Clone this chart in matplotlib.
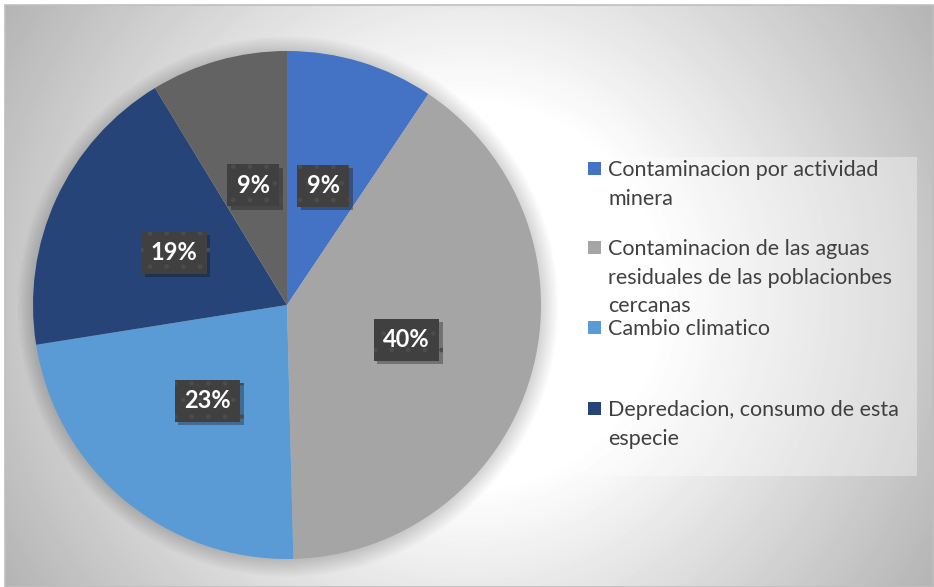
import numpy as np
import matplotlib
matplotlib.use("Agg")
import matplotlib.pyplot as plt
import matplotlib.patheffects as pe
from matplotlib.patches import Rectangle, Circle

# datos del grafico
valores = [9.4, 40.2, 22.9, 18.8, 8.7]
colores = ["#4472C4", "#A5A5A5", "#5B9BD5", "#264478", "#636363"]
leyenda = [
    "Contaminacion por actividad\nminera",
    "Contaminacion de las aguas\nresiduales de las poblacionbes\ncercanas",
    "Cambio climatico",
    "Depredacion, consumo de esta\nespecie",
]

plt.rcParams["font.family"] = ["Lato", "DejaVu Sans"]

W, H = 934, 587
fig = plt.figure(figsize=(W / 100, H / 100), dpi=100)
fig.patch.set_facecolor("white")


def fx(px):
    return px / W


def fy(py):
    return 1 - py / H


# fondo con degradado radial
ax_bg = fig.add_axes([fx(5), 0, fx(929), 582 / H])
yy, xx = np.mgrid[0:582, 0:929]
r = np.hypot(xx - 465, yy - 290)
gris = np.clip(255 - 0.21 * np.clip(r - 190, 0, None), 0, 255) / 255
ax_bg.imshow(gris, cmap="gray", vmin=0, vmax=1, aspect="auto",
             extent=[0, 1, 0, 1], interpolation="bilinear")
ax_bg.set_xlim(0, 1)
ax_bg.set_ylim(0, 1)
ax_bg.axis("off")
fig.add_artist(Rectangle((fx(5), 0), fx(928), 582 / H, transform=fig.transFigure,
                         fill=False, edgecolor="#BFBFBF", linewidth=1.2))

# cuadro de la leyenda
fig.add_artist(Rectangle((fx(578), fy(476)), fx(917 - 578), (476 - 157) / H,
                         transform=fig.transFigure, facecolor="white",
                         alpha=0.35, edgecolor="none"))

# pastel
cx, cy, rad = 287, 305, 254
ext = 1.12
ax = fig.add_axes([fx(cx - rad * ext), (H - cy - rad * ext) / H,
                   2 * rad * ext / W, 2 * rad * ext / H])
ax.axis("off")

# sombra suave
for k in range(14):
    ax.add_patch(Circle((0.004, -0.006), 1.0 + k * 0.005, facecolor="black",
                        alpha=0.012, edgecolor="none", zorder=0))

wedges, _, autotexts = ax.pie(
    valores, colors=colores, startangle=90, counterclock=False,
    autopct="%1.0f%%", pctdistance=0.49, radius=1.0,
    wedgeprops=dict(linewidth=0, zorder=1),
    textprops=dict(color="white", fontsize=17, fontweight="bold"),
)
ax.set_xlim(-ext, ext)
ax.set_ylim(-ext, ext)

for t in autotexts:
    t.set_bbox(dict(boxstyle="square,pad=0.4", facecolor="#404040",
                    edgecolor="#4c4c4c", linewidth=0, hatch="."))
    t.get_bbox_patch().set_path_effects(
        [pe.SimplePatchShadow(offset=(2.5, -2.5), alpha=0.35), pe.Normal()])

# leyenda dibujada a mano
y_base = [176, 255, 335, 416]
for etiqueta, color, yb in zip(leyenda, colores, y_base):
    fig.add_artist(Rectangle((fx(588), fy(yb - 1)), fx(13), 13 / H,
                             transform=fig.transFigure, facecolor=color,
                             edgecolor="none"))
    for i, linea in enumerate(etiqueta.split("\n")):
        fig.text(fx(608), fy(yb + 28.7 * i), linea, fontsize=15.5,
                 color="#404040", va="baseline", ha="left")

fig.savefig("out.png", dpi=100)
